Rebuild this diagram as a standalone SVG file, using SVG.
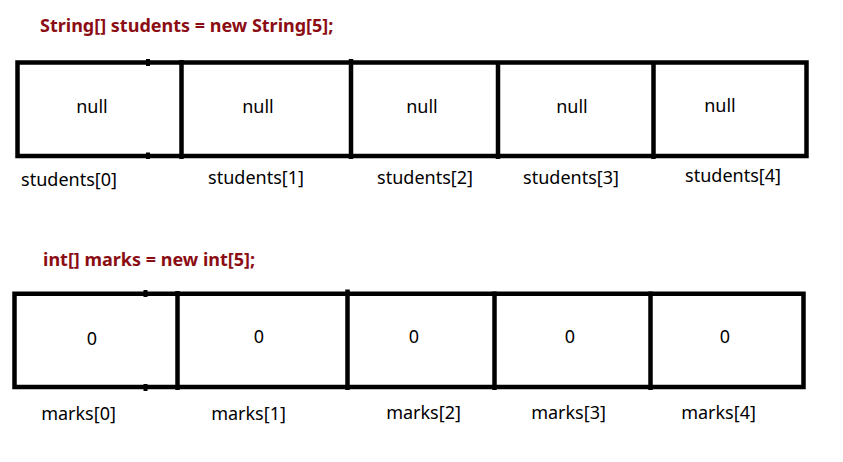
<svg xmlns="http://www.w3.org/2000/svg" width="843" height="462" viewBox="0 0 843 462">
<style>
.title{font-family:"Noto Sans","Liberation Sans",sans-serif;font-size:18px;font-weight:bold;fill:#8b0d13}
.val{font-family:"Noto Sans","Liberation Sans",sans-serif;font-size:18px;fill:#000;text-anchor:middle}
.lbl{font-family:"Noto Sans","Liberation Sans",sans-serif;font-size:18px;fill:#000;text-anchor:middle}
.box{fill:none;stroke:#000;stroke-width:4.5}
.div{stroke:#000;stroke-width:4.5}
.tick{stroke:#000;stroke-width:4}
</style>
<rect width="843" height="462" fill="#fff"/>

<g id="students-array">
  <text class="title" x="40" y="32">String[] students = new String[5];</text>
  <rect class="box" x="17.5" y="62.5" width="789" height="93.5"/>
  <g id="students-0">
    <text class="val" x="92" y="113">null</text>
    <text class="lbl" x="69" y="186">students[0]</text>
  </g>
  <g id="students-1">
    <line class="div" x1="181.5" y1="60" x2="181.5" y2="159"/>
    <text class="val" x="258" y="113">null</text>
    <text class="lbl" x="256" y="184">students[1]</text>
  </g>
  <g id="students-2">
    <line class="div" x1="351" y1="59" x2="351" y2="159"/>
    <text class="val" x="422" y="113">null</text>
    <text class="lbl" x="425" y="184">students[2]</text>
  </g>
  <g id="students-3">
    <line class="div" x1="498" y1="61" x2="498" y2="159"/>
    <text class="val" x="572" y="113">null</text>
    <text class="lbl" x="571" y="184">students[3]</text>
  </g>
  <g id="students-4">
    <line class="div" x1="653.5" y1="61" x2="653.5" y2="159"/>
    <text class="val" x="720" y="112">null</text>
    <text class="lbl" x="733" y="182">students[4]</text>
  </g>
  <line class="tick" x1="148" y1="59" x2="148" y2="66"/>
  <line class="tick" x1="148" y1="152.5" x2="148" y2="159"/>
</g>

<g id="marks-array">
  <text class="title" x="43" y="266">int[] marks = new int[5];</text>
  <rect class="box" x="14.5" y="293.75" width="789" height="93.25"/>
  <g id="marks-0">
    <text class="val" x="92" y="345">0</text>
    <text class="lbl" x="78.5" y="420">marks[0]</text>
  </g>
  <g id="marks-1">
    <line class="div" x1="177.5" y1="291" x2="177.5" y2="390"/>
    <text class="val" x="259" y="343">0</text>
    <text class="lbl" x="248.5" y="420">marks[1]</text>
  </g>
  <g id="marks-2">
    <line class="div" x1="347.5" y1="289.5" x2="347.5" y2="390"/>
    <text class="val" x="414" y="343">0</text>
    <text class="lbl" x="423.5" y="419">marks[2]</text>
  </g>
  <g id="marks-3">
    <line class="div" x1="494.5" y1="291.5" x2="494.5" y2="390"/>
    <text class="val" x="570" y="343">0</text>
    <text class="lbl" x="568.5" y="419">marks[3]</text>
  </g>
  <g id="marks-4">
    <line class="div" x1="650.5" y1="291.5" x2="650.5" y2="390"/>
    <text class="val" x="725" y="343">0</text>
    <text class="lbl" x="718.5" y="419">marks[4]</text>
  </g>
  <line class="tick" x1="145.5" y1="290" x2="145.5" y2="297"/>
  <line class="tick" x1="145.5" y1="384" x2="145.5" y2="391"/>
</g>
</svg>
